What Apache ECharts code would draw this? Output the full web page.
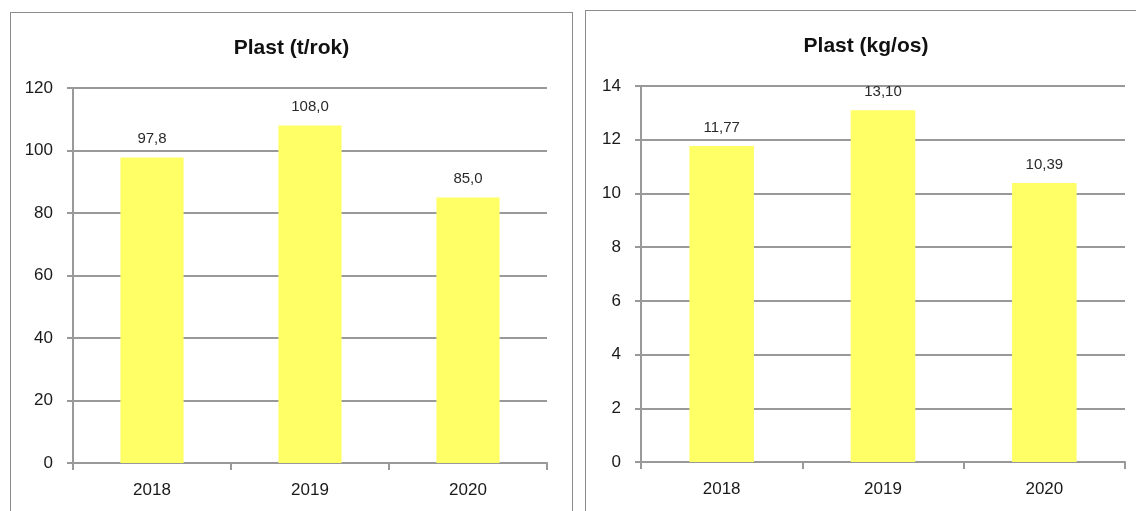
<!DOCTYPE html>
<html>
<head>
<meta charset="utf-8">
<script src="https://cdn.jsdelivr.net/npm/echarts@6/dist/echarts.min.js"></script>
<style>
  html, body { margin: 0; padding: 0; background: #fff; width: 1136px; height: 511px; overflow: hidden; }
  .panel {
    position: absolute;
    border: 1px solid #8c8c8c;
    background: #fff;
  }
  #leftPanel { left: 10px; top: 12px; width: 561px; height: 520px; }
  #rightPanel { left: 585px; top: 10px; width: 560px; height: 520px; }
  .chart { width: 100%; height: 100%; }
</style>
</head>
<body>
<div class="panel" id="leftPanel"><div class="chart" id="chartTons"></div></div>
<div class="panel" id="rightPanel"><div class="chart" id="chartKg"></div></div>

<script>
// data
var years = ['2018', '2019', '2020'];
var tonsPerYear = [97.8, 108.0, 85.0];
var kgPerPerson = [11.77, 13.10, 10.39];

var fontName = '"Liberation Sans", Arial, sans-serif';
var gridGray = '#999999';

function makeOption(title, values, yMax, yStep, digits, grid) {
  return {
    animation: false,
    title: {
      text: title,
      left: 'center',
      top: 20,
      textStyle: { fontFamily: fontName, fontWeight: 'bold', fontSize: 21, color: '#111' }
    },
    grid: grid,
    xAxis: {
      type: 'category',
      data: years,
      axisLine: { lineStyle: { color: gridGray, width: 2 } },
      axisTick: { show: true, length: 7, lineStyle: { color: gridGray, width: 2 } },
      axisLabel: { fontFamily: fontName, fontSize: 17, color: '#1a1a1a', margin: 19 }
    },
    yAxis: {
      type: 'value',
      min: 0,
      max: yMax,
      interval: yStep,
      axisLine: { show: true, lineStyle: { color: gridGray, width: 2 } },
      axisTick: { show: true, length: 6, lineStyle: { color: gridGray, width: 2 } },
      axisLabel: { fontFamily: fontName, fontSize: 17, color: '#1a1a1a', margin: 20 },
      splitLine: { lineStyle: { color: gridGray, width: 2 } }
    },
    series: [{
      type: 'bar',
      data: values,
      barWidth: '40%',
      itemStyle: { color: '#ffff66' },
      label: {
        show: true,
        position: 'top',
        distance: 11,
        fontFamily: fontName,
        fontSize: 15,
        color: '#2a2a2a',
        formatter: function (p) {
          return p.value.toFixed(digits).replace('.', ',');
        }
      }
    }]
  };
}

var chartTons = echarts.init(document.getElementById('chartTons'));
chartTons.setOption(makeOption('Plast (t/rok)', tonsPerYear, 120, 20, 1,
  { left: 62, top: 75, width: 474, height: 375 }));

var chartKg = echarts.init(document.getElementById('chartKg'));
chartKg.setOption(makeOption('Plast (kg/os)', kgPerPerson, 14, 2, 2,
  { left: 55, top: 75, width: 484, height: 376 }));
</script>
</body>
</html>
